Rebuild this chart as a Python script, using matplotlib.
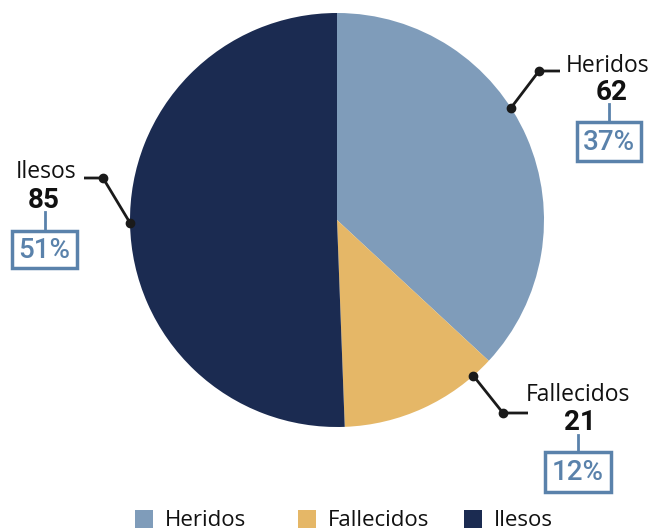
import numpy as np
import matplotlib.pyplot as plt
from matplotlib.patches import Rectangle

labels = ["Heridos", "Fallecidos", "Ilesos"]
values = [62, 21, 85]
percents = ["37%", "12%", "51%"]
colors = ["#7f9cba", "#e5b767", "#1b2b51"]

W, H = 653, 530
CX, CY, R = 337, H - 220, 207
LINE = "#1a1a1a"
BLUE = "#5a82ab"

# label layout: anchor angle on rim, elbow point, label pos (pixels, y from top)
layout = {
    "Heridos":    dict(ang=32.8,  elbow=(539, 71),  end=(560, 71),  tx=566, ha="left",  ty=66,  nx=612, ny=92,  bx=(577, 641), by=(122, 161)),
    "Fallecidos": dict(ang=-48.8, elbow=(503, 413), end=(528, 413), tx=526, ha="left",  ty=395, nx=580, ny=423, bx=(545, 611), by=(452, 492)),
    "Ilesos":     dict(ang=180.8, elbow=(103, 178), end=(84, 178),  tx=76,  ha="right", ty=172, nx=44,  ny=200, bx=(12, 77),   by=(231, 268)),
}

fig = plt.figure(figsize=(W / 100, H / 100), dpi=100)
ax = fig.add_axes([0, 0, 1, 1])

ax.pie(values, colors=colors, startangle=90, counterclock=False,
       center=(CX, CY), radius=R, frame=True)
ax.set_xlim(0, W)
ax.set_ylim(0, H)
ax.set_aspect("equal")
ax.axis("off")

sans = ["Open Sans", "DejaVu Sans"]
cond = ["Roboto", "DejaVu Sans"]
for lab, val, pct in zip(labels, values, percents):
    L = layout[lab]
    a = np.radians(L["ang"])
    px, py = CX + R * np.cos(a), CY + R * np.sin(a)
    ex, ey = L["elbow"][0], H - L["elbow"][1]
    fx, fy = L["end"][0], H - L["end"][1]
    ax.plot([px, ex, fx], [py, ey, fy], color=LINE, lw=2, solid_capstyle="butt", zorder=5)
    ax.plot([px, ex], [py, ey], "o", color=LINE, ms=6, zorder=6)
    ax.text(L["tx"], H - L["ty"], lab, ha=L["ha"], va="center", fontsize=16.5,
            family=sans, color="#111111")
    ax.text(L["nx"], H - L["ny"], str(val), ha="center", va="center", fontsize=20,
            fontweight="bold", family=cond, color="#111111")
    x0, x1 = L["bx"]
    y0, y1 = H - L["by"][1], H - L["by"][0]
    ax.plot([(x0 + x1) / 2] * 2, [H - L["ny"] - 12, y1], color=BLUE, lw=2)
    ax.add_patch(Rectangle((x0, y0), x1 - x0, y1 - y0, fill=False, ec=BLUE, lw=2.5))
    ax.text((x0 + x1) / 2, (y0 + y1) / 2 - 1, pct, ha="center", va="center", fontsize=20,
            fontweight="medium", family=cond, color=BLUE)

# legend
leg_x = [135, 298, 464]
for x, lab, c in zip(leg_x, labels, colors):
    ax.add_patch(Rectangle((x, H - 528), 18, 18, color=c, lw=0))
    ax.text(x + 30, H - 520, lab, ha="left", va="center", fontsize=16,
            family=sans, color="#111111")

fig.savefig("out.png", dpi=100)
